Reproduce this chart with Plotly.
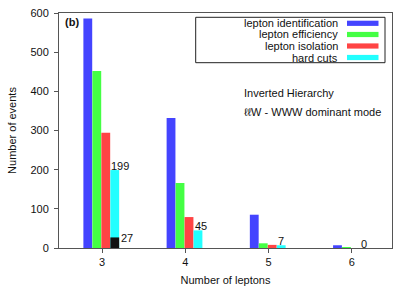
import plotly.graph_objects as go

# ---- data ----
n_leptons = [3, 4, 5, 6]
series_names = ["lepton identification", "lepton efficiency", "lepton isolation", "hard cuts"]
lepton_identification = [586, 332, 85, 7]
lepton_efficiency = [452, 166, 12, 1]
lepton_isolation = [294, 79, 8, 0]
hard_cuts = [199, 45, 7, 0]
black_x = [3]
black_vals = [27]
colors = ["#4444ff", "#44ff44", "#ff4444", "#22ffff"]

W, H = 413, 289
L, R, T, B = 59, 21, 13, 41
PW, PH = W - L - R, H - T - B

def px(x):
    return (x - L) / PW

def py(y):
    return (H - B - y) / PH

bar_w = 0.106
offsets = [-0.224, -0.116, -0.008, 0.100]
values = [lepton_identification, lepton_efficiency, lepton_isolation, hard_cuts]

fig = go.Figure()
for name, vals, col, off in zip(series_names, values, colors, offsets):
    fig.add_trace(go.Bar(x=n_leptons, y=vals, name=name, marker_color=col,
                         marker_line_width=0, width=bar_w, offset=off,
                         showlegend=False))
fig.add_trace(go.Bar(x=black_x, y=black_vals, marker_color="#111111",
                     marker_line_width=0, width=bar_w, offset=offsets[3],
                     showlegend=False))

font = dict(family="Liberation Sans, Arial, sans-serif", size=11, color="#111")
ann = []
for xv, v in zip(n_leptons, hard_cuts):
    ann.append(dict(x=xv + offsets[3], y=v, xref="x", yref="y", text=str(v),
                    showarrow=False, xanchor="left", yanchor="middle", yshift=4,
                    xshift=-1, font=font))
for xv, v in zip(black_x, black_vals):
    ann.append(dict(x=xv + offsets[3] + bar_w, y=v, xref="x", yref="y", text=str(v),
                    showarrow=False, xanchor="left", yanchor="middle", yshift=-1,
                    font=font))

shapes = [dict(type="rect", xref="paper", yref="paper", x0=px(195.7), x1=px(385),
               y0=py(62.7), y1=py(17.3), line=dict(color="#222", width=1),
               fillcolor="white", layer="above")]
row_y = [23.3, 34.5, 46.0, 57.5]
for name, col, yy in zip(series_names, colors, row_y):
    ann.append(dict(x=px(340), y=py(yy), xref="paper", yref="paper", text=name,
                    showarrow=False, xanchor="right", yanchor="middle", font=font))
    shapes.append(dict(type="rect", xref="paper", yref="paper", x0=px(347), x1=px(378.5),
                       y0=py(yy + 2.6), y1=py(yy - 2.6), line=dict(width=0),
                       fillcolor=col, layer="above"))

ann.append(dict(x=px(241.5), y=py(92.7), xref="paper", yref="paper",
                text="Inverted Hierarchy", showarrow=False, xanchor="left",
                yanchor="middle", font=font))
ann.append(dict(x=px(241.5), y=py(112), xref="paper", yref="paper",
                text="ℓℓW - WWW dominant mode", showarrow=False, xanchor="left",
                yanchor="middle", font=font))
ann.append(dict(x=px(63), y=py(22.3), xref="paper", yref="paper",
                text="<b>(b)</b>", showarrow=False, xanchor="left",
                yanchor="middle", font=font))

axis_common = dict(showline=True, linecolor="#555", linewidth=1, mirror=True,
                   ticks="outside", ticklen=4, tickcolor="#555", showgrid=False,
                   zeroline=False, tickfont=font, automargin=False)

fig.update_layout(
    width=W, height=H,
    margin=dict(l=L, r=R, t=T, b=B, autoexpand=False),
    paper_bgcolor="white", plot_bgcolor="white",
    barmode="overlay",
    xaxis=dict(range=[2.483, 6.484], tickvals=n_leptons,
               ticktext=[str(v) for v in n_leptons], ticklabelstandoff=0,
               title=dict(text="Number of leptons", font=font, standoff=9),
               **axis_common),
    yaxis=dict(range=[0, 600], tickvals=[0, 100, 200, 300, 400, 500, 600],
               ticklabelstandoff=3,
               title=dict(text="Number of events", font=font, standoff=11),
               **axis_common),
    annotations=ann, shapes=shapes,
    font=font,
)

fig.write_html("out.html", config={"displayModeBar": False},
               post_script="document.body.style.margin='0';document.body.style.padding='0';")
